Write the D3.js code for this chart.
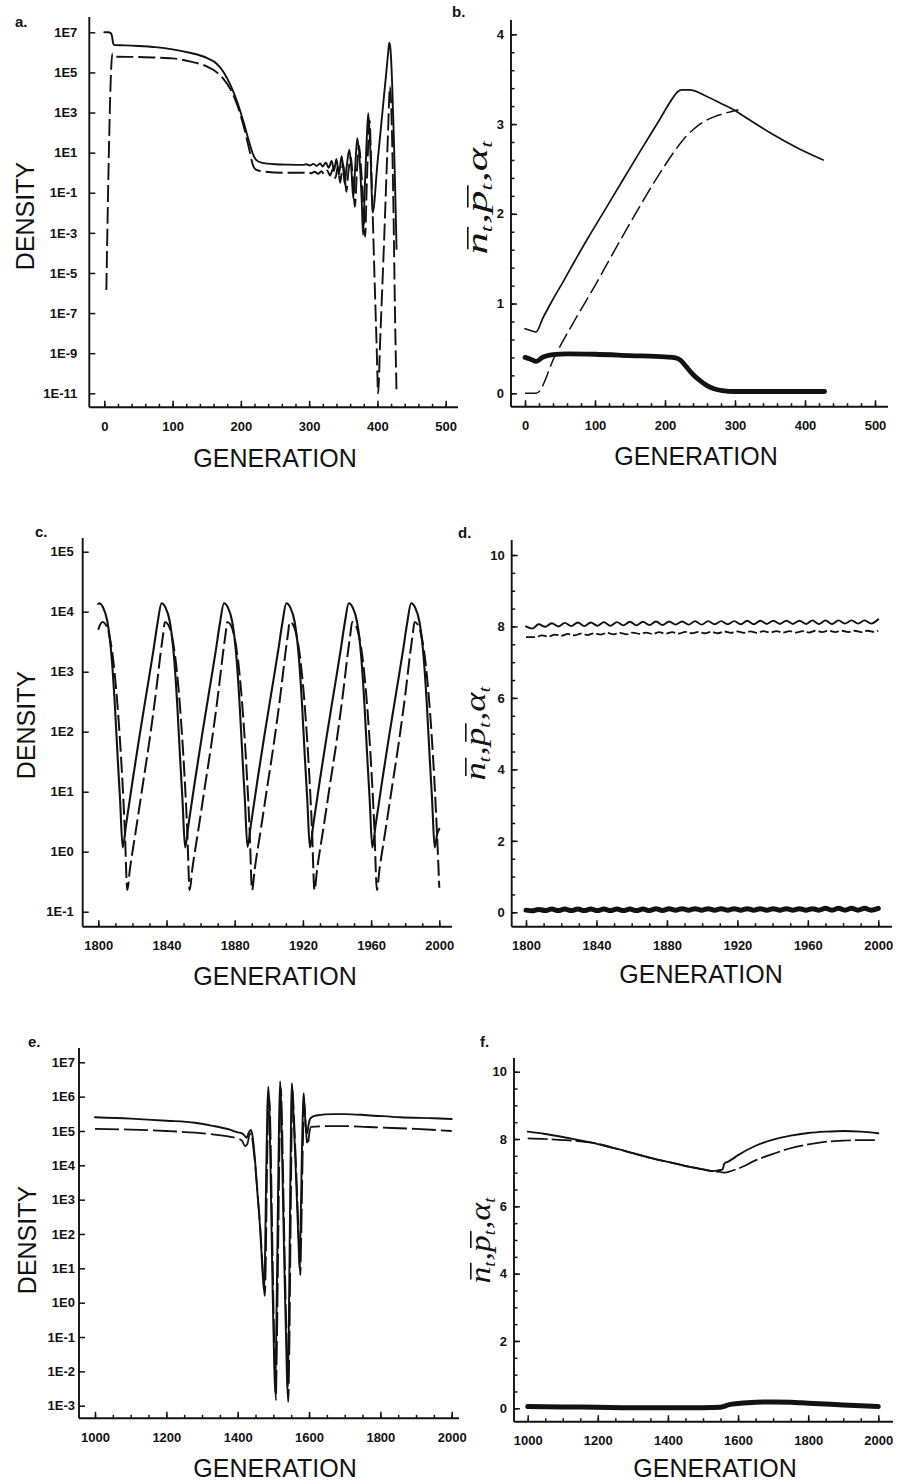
<!DOCTYPE html>
<html>
<head>
<meta charset="utf-8">
<script src="https://cdn.jsdelivr.net/npm/d3@7"></script>
<style>
  body { margin: 0; background: #fff; }
  svg { display: block; }
</style>
</head>
<body>
<svg id="fig" width="899" height="1484"></svg>
<script>
// ===================== data =====================
// Panel a: host (solid) and parasitoid (dashed) densities, log10 units
const aHostGen = [0,6,9,11,13,15,30,50,75,100,125,150,165,175,185,195,205,212,218,222,230,250,270,290,
  296,301,306,311,316,320,324.5,328.5,333,336.5,340,343.5,347.5,350,352,355,358.8,362,364.6,367.5,370.5,
  374,377,379,381.5,384.5,386.6,390,393,400,408,413,415.5,417.3,419,421.5,424,426,428];
const aHostLog10 = [7.00,7.00,6.97,6.85,6.45,6.36,6.35,6.32,6.26,6.15,5.98,5.72,5.42,5.00,4.35,3.50,2.40,1.55,0.90,0.65,0.50,0.42,0.40,0.39,
  0.42,0.36,0.44,0.34,0.46,0.31,0.50,0.25,0.58,0.12,0.68,-0.10,0.82,0.20,-0.55,0.30,1.15,0.10,-1.28,0.30,1.72,
  0.60,-1.40,-3.10,-0.80,1.80,2.96,0.80,-2.00,0.45,3.25,5.00,5.90,6.48,6.20,4.50,1.80,-0.80,-3.80];
const aParaGen = [3,12,13.5,20,50,75,100,125,150,165,175,185,195,205,212,218,222,235,260,290,
  298,303,308,313,318,322,326.5,330.5,335,338.5,342,345.5,349.5,352,354.5,357.5,361,364,367,370,373,
  376.5,379.5,382,384.5,386.5,388.5,391,396,399,401,404,410,415,418.5,420,423,426,428];
const aParaLog10 = [-5.85,5.95,5.85,5.78,5.77,5.74,5.70,5.55,5.30,5.00,4.65,4.15,3.35,2.20,1.20,0.35,0.15,0.05,0.00,0.00,
  0.03,-0.03,0.05,-0.05,0.07,-0.08,0.11,-0.14,0.19,-0.27,0.29,-0.50,0.45,-0.10,-0.95,0.05,0.80,-0.30,-1.70,0.10,1.35,
  0.00,-1.60,-3.20,-0.50,1.40,2.60,0.30,-5.50,-8.80,-11.00,-8.40,-3.20,1.50,4.30,3.50,-0.80,-7.50,-11.00];
const aXTicks = [0,100,200,300,400,500];
const aXLabels = ["0","100","200","300","400","500"];
const aYTicks = [1e7,1e5,1e3,1e1,1e-1,1e-3,1e-5,1e-7,1e-9,1e-11];
const aYLabels = ["1E7","1E5","1E3","1E1","1E-1","1E-3","1E-5","1E-7","1E-9","1E-11"];

// Panel b: mean n (solid), mean p (dashed), alpha (thick)
const bNGen = [0,8,16,25,38,55,70,90,117,140,164,190,212,218,224,235,259,280,298,320,355,390,426];
const bN = [0.72,0.70,0.685,0.83,1.02,1.25,1.46,1.73,2.08,2.38,2.69,3.02,3.30,3.36,3.38,3.38,3.31,3.23,3.16,3.05,2.88,2.73,2.60];
const bPGen = [0,16,43,70,100,130,160,190,212,230,250,270,290,305];
const bP = [0,0,0.42,0.80,1.20,1.62,2.03,2.42,2.68,2.86,3.00,3.08,3.13,3.16];
const bAGen = [0,8,16,25,40,60,100,150,200,215,222,230,240,250,260,270,282,300,350,400,428];
const bA = [0.40,0.38,0.355,0.40,0.43,0.44,0.435,0.42,0.405,0.395,0.37,0.30,0.21,0.14,0.085,0.05,0.03,0.02,0.02,0.02,0.02];
const bXTicks = [0,100,200,300,400,500];
const bXLabels = ["0","100","200","300","400","500"];
const bYTicks = [0,1,2,3,4];
const bYLabels = ["0","1","2","3","4"];

// Panel c: host (solid) and parasitoid (dashed) densities, log10 units
const cHostGen = [1800,1800.5,1802.8,1805.3,1807.8,1809.8,1811.3,1812.8,1814.3,1816.3,1820.3,1824.3,1828.3,1832.3,1834.8,1837.1,
  1839.4,1841.9,1844.4,1846.4,1847.9,1849.4,1850.9,1852.9,1856.9,1860.9,1864.9,1868.9,1871.4,1873.7,
  1876.0,1878.5,1881.0,1883.0,1884.5,1886.0,1887.5,1889.5,1893.5,1897.5,1901.5,1905.5,1908.0,1910.3,
  1912.6,1915.1,1917.6,1919.6,1921.1,1922.6,1924.1,1926.1,1930.1,1934.1,1938.1,1942.1,1944.6,1946.9,
  1949.2,1951.7,1954.2,1956.2,1957.7,1959.2,1960.7,1962.7,1966.7,1970.7,1974.7,1978.7,1981.2,1983.5,
  1985.8,1988.3,1990.8,1992.8,1994.3,1995.8,1997.3,1998.8,2000];
const cHostLog10 = [4.13,4.14,4.07,3.84,3.25,2.40,1.60,0.85,0.07,0.45,1.22,1.95,2.65,3.35,3.82,4.14,
  4.07,3.84,3.25,2.40,1.60,0.85,0.07,0.45,1.22,1.95,2.65,3.35,3.82,4.14,
  4.07,3.84,3.25,2.40,1.60,0.85,0.08,0.45,1.22,1.95,2.65,3.35,3.82,4.14,
  4.07,3.84,3.25,2.40,1.60,0.85,0.07,0.45,1.22,1.95,2.65,3.35,3.82,4.14,
  4.07,3.84,3.25,2.40,1.60,0.85,0.07,0.45,1.22,1.95,2.65,3.35,3.82,4.14,
  4.07,3.84,3.25,2.40,1.60,0.85,0.07,0.30,0.38];
const cParaGen = [1800,1801,1802.5,1804.5,1806.5,1808.5,1810.5,1812.5,1814,1815.5,1817,1818.5,1822,1826,1830,1834,1836.5,1838,1839.1,
  1841.1,1843.1,1845.1,1847.1,1849.1,1850.6,1852.1,1853.6,1855.1,1858.6,1862.6,1866.6,1870.6,1873.1,1874.6,1875.7,
  1877.7,1879.7,1881.7,1883.7,1885.7,1887.2,1888.7,1890.2,1891.7,1895.2,1899.2,1903.2,1907.2,1909.7,1911.2,1912.3,
  1914.3,1916.3,1918.3,1920.3,1922.3,1923.8,1925.3,1926.8,1928.3,1931.8,1935.8,1939.8,1943.8,1946.3,1947.8,1948.9,
  1950.9,1952.9,1954.9,1956.9,1958.9,1960.4,1961.9,1963.4,1964.9,1968.4,1972.4,1976.4,1980.4,1982.9,1984.4,1985.5,
  1987.5,1989.5,1991.5,1993.5,1995.5,1997,1998.5,2000];
const cParaLog10 = [3.70,3.78,3.83,3.78,3.60,3.25,2.70,1.95,1.25,0.40,-0.64,-0.30,0.35,1.10,1.85,2.70,3.30,3.62,3.83,
  3.78,3.60,3.25,2.70,1.95,1.25,0.40,-0.64,-0.30,0.35,1.10,1.85,2.70,3.30,3.62,3.83,
  3.78,3.60,3.25,2.70,1.95,1.25,0.40,-0.64,-0.30,0.35,1.10,1.85,2.70,3.30,3.62,3.83,
  3.78,3.60,3.25,2.70,1.95,1.25,0.40,-0.64,-0.30,0.35,1.10,1.85,2.70,3.30,3.62,3.83,
  3.78,3.60,3.25,2.70,1.95,1.25,0.40,-0.64,-0.30,0.35,1.10,1.85,2.70,3.30,3.62,3.83,
  3.78,3.60,3.25,2.70,1.95,1.25,0.40,-0.60];
const cXTicks = [1800,1840,1880,1920,1960,2000];
const cXLabels = ["1800","1840","1880","1920","1960","2000"];
const cYTicks = [1e5,1e4,1e3,1e2,1e1,1e0,1e-1];
const cYLabels = ["1E5","1E4","1E3","1E2","1E1","1E0","1E-1"];

// Panel d: mean n (solid), mean p (dashed), alpha (thick)
const dGen = [1800,1803.5,1807.2,1810.9,1814.6,1818.3,1822.0,1825.7,1829.4,1833.1,1836.8,1840.5,1844.2,1847.9,1851.6,
  1855.3,1859.0,1862.7,1866.4,1870.1,1873.8,1877.5,1881.2,1884.9,1888.6,1892.3,1896.0,1899.7,1903.4,1907.1,
  1910.8,1914.5,1918.2,1921.9,1925.6,1929.3,1933.0,1936.7,1940.4,1944.1,1947.8,1951.5,1955.2,1958.9,1962.6,
  1966.3,1970.0,1973.7,1977.4,1981.1,1984.8,1988.5,1992.2,1995.9,2000];
const dN = [8.00,7.94,8.06,7.99,8.09,8.00,8.10,8.01,8.11,8.01,8.11,8.02,8.12,8.02,8.12,
  8.03,8.13,8.03,8.13,8.04,8.14,8.04,8.14,8.05,8.14,8.05,8.15,8.05,8.15,8.06,
  8.15,8.06,8.15,8.06,8.16,8.06,8.16,8.07,8.16,8.07,8.16,8.07,8.16,8.07,8.17,
  8.07,8.17,8.07,8.17,8.08,8.17,8.08,8.17,8.08,8.20];
const dA = [0.06,0.04,0.08,0.05,0.09,0.05,0.09,0.05,0.09,0.05,0.09,0.05,0.09,0.05,0.09,
  0.05,0.09,0.05,0.09,0.05,0.10,0.05,0.10,0.06,0.10,0.06,0.10,0.06,0.10,0.06,
  0.10,0.06,0.10,0.06,0.10,0.06,0.10,0.06,0.10,0.06,0.10,0.06,0.10,0.06,0.10,
  0.06,0.11,0.06,0.11,0.06,0.11,0.06,0.11,0.06,0.11];
const dPGen = [1800,1805.3,1809.0,1812.7,1816.4,1820.1,1823.8,1827.5,1831.2,1834.9,1838.6,1842.3,1846.0,1849.7,
  1853.4,1857.1,1860.8,1864.5,1868.2,1871.9,1875.6,1879.3,1883.0,1886.7,1890.4,1894.1,1897.8,1901.5,
  1905.2,1908.9,1912.6,1916.3,1920.0,1923.7,1927.4,1931.1,1934.8,1938.5,1942.2,1945.9,1949.6,1953.3,
  1957.0,1960.7,1964.4,1968.1,1971.8,1975.5,1979.2,1982.9,1986.6,1990.3,1994.0,1997.7,2000];
const dP = [7.70,7.70,7.75,7.72,7.77,7.74,7.79,7.75,7.80,7.76,7.81,7.77,7.82,7.78,
  7.82,7.78,7.83,7.79,7.83,7.79,7.84,7.80,7.84,7.80,7.85,7.81,7.85,7.81,
  7.85,7.81,7.86,7.82,7.86,7.82,7.86,7.82,7.87,7.83,7.87,7.83,7.87,7.83,
  7.87,7.83,7.88,7.84,7.88,7.84,7.88,7.84,7.88,7.84,7.88,7.85,7.88];
const dXTicks = [1800,1840,1880,1920,1960,2000];
const dXLabels = ["1800","1840","1880","1920","1960","2000"];
const dYTicks = [0,2,4,6,8,10];
const dYLabels = ["0","2","4","6","8","10"];

// Panel e: host (solid) and parasitoid (dashed) densities, log10 units
const eHostGen = [1000,1100,1200,1280,1330,1380,1400,1412,1418,1425,1431,1436.7,1441,1448.6,1456,1462.6,1468,1472,1474,
  1476.5,1479.5,1483,1486,1489,1493.5,1498,1502,1505,1508,1512,1516,1519,1522,1527,1532,1536,1539.6,
  1543,1547,1550,1552,1555,1560,1566,1571,1573.4,1576,1580,1583,1585,1588,1591,1594.5,1599,1604,
  1620,1669,1700,1763,1855,1950,2000];
const eHostLog10 = [5.40,5.36,5.30,5.24,5.15,5.03,4.96,4.93,4.88,4.80,4.95,5.03,4.90,4.15,3.10,2.21,1.20,0.55,0.37,
  1.20,3.50,5.60,6.29,5.60,3.00,0.30,-1.60,-2.60,-1.00,2.20,5.30,6.44,5.60,3.00,0.50,-1.20,-2.65,
  -1.00,3.00,5.70,6.39,5.80,4.60,3.00,1.60,1.00,2.00,4.40,5.70,6.10,5.60,5.10,4.93,5.20,5.37,
  5.45,5.49,5.49,5.46,5.40,5.37,5.35];
const eParaGen = [1000,1100,1200,1280,1330,1380,1400,1412,1420.5,1427,1433,1438,1443,1450,1458,1464.5,1470,1474,1476,
  1478.5,1481.5,1485,1488,1491,1495.5,1500,1504,1507,1510,1514,1518,1521,1524,1529,1534,1538,1541.6,
  1545,1549,1552,1554,1557,1562,1568,1573,1575.4,1578,1582,1585,1587,1590,1593,1596.5,1601,1606,
  1650,1700,1800,1900,2000];
const eParaLog10 = [5.06,5.04,5.00,4.95,4.90,4.83,4.78,4.72,4.56,4.62,4.88,4.93,4.60,3.90,2.90,2.00,1.00,0.40,0.20,
  1.00,3.30,5.40,6.00,5.40,2.80,0.10,-1.80,-2.83,-1.20,2.00,5.10,6.25,5.40,2.80,0.30,-1.40,-2.89,
  -1.20,2.80,5.50,6.20,5.60,4.40,2.80,1.40,0.80,1.80,4.20,5.50,5.80,5.30,4.80,4.60,4.95,5.12,
  5.14,5.14,5.10,5.06,5.00];
const eXTicks = [1000,1200,1400,1600,1800,2000];
const eXLabels = ["1000","1200","1400","1600","1800","2000"];
const eYTicks = [1e7,1e6,1e5,1e4,1e3,1e2,1e1,1e0,1e-1,1e-2,1e-3];
const eYLabels = ["1E7","1E6","1E5","1E4","1E3","1E2","1E1","1E0","1E-1","1E-2","1E-3"];

// Panel f: mean n (solid), mean p (dashed), alpha (thick)
const fNGen = [1000,1050,1100,1150,1200,1230,1250,1300,1350,1400,1450,1500,1525,1540,1550,1556,1560,1565,1570,1580,
  1600,1650,1700,1750,1800,1850,1900,1950,2000];
const fN = [8.22,8.15,8.06,7.96,7.85,7.77,7.72,7.58,7.44,7.32,7.20,7.10,7.05,7.06,7.08,7.10,7.25,7.30,7.32,7.38,
  7.52,7.80,7.98,8.10,8.18,8.22,8.24,8.22,8.17];
const fPGen = [1000,1050,1100,1150,1200,1230,1250,1300,1350,1400,1450,1500,1530,1550,1563,1580,1600,1653,1700,1747,
  1800,1842,1900,1950,2000];
const fP = [8.02,8.00,7.97,7.93,7.86,7.78,7.72,7.58,7.44,7.32,7.20,7.10,7.04,7.02,7.00,7.05,7.12,7.38,7.56,7.72,
  7.84,7.91,7.95,7.97,7.97];
const fAGen = [1000,1100,1200,1300,1400,1500,1550,1560,1575,1600,1650,1700,1750,1800,1900,2000];
const fA = [0.05,0.04,0.03,0.02,0.02,0.02,0.03,0.06,0.11,0.14,0.18,0.19,0.18,0.15,0.10,0.05];
const fXTicks = [1000,1200,1400,1600,1800,2000];
const fXLabels = ["1000","1200","1400","1600","1800","2000"];
const fYTicks = [0,2,4,6,8,10];
const fYLabels = ["0","2","4","6","8","10"];

// ===================== drawing =====================
const svg = d3.select("#fig");
const INK = "#121212";
const SANS = '"Liberation Sans", Arial, Helvetica, sans-serif';
const SERIF = '"Liberation Serif", "Times New Roman", serif';

svg.append("rect").attr("width", 899).attr("height", 1484).attr("fill", "#fff");

const pairs = (xs, ys) => xs.slice(0, Math.min(xs.length, ys.length)).map((g, i) => [g, ys[i]]);
const pairsExp = (xs, ys) => pairs(xs, ys).map(([g, v]) => [g, Math.pow(10, v)]);

function drawPanel(p) {
  const g = svg.append("g");
  const x = d3.scaleLinear().domain(p.xDomain).range(p.xRange);
  const y = (p.log ? d3.scaleLog() : d3.scaleLinear()).domain(p.yDomain).range(p.yRange);

  const styleAxis = s => {
    s.select(".domain").remove();
    s.selectAll(".tick line").attr("stroke", INK).attr("stroke-width", 1.5);
    s.selectAll("text").attr("font-family", SANS).attr("font-size", 13)
      .attr("font-weight", "bold").attr("fill", INK);
  };

  // x axis: minor then major ticks, pointing up into the plot
  g.append("g").attr("transform", `translate(0,${p.axisY})`)
    .call(d3.axisBottom(x).tickValues(p.xMinor).tickSizeInner(-3.5).tickSizeOuter(0).tickFormat(() => ""))
    .call(styleAxis);
  g.append("g").attr("transform", `translate(0,${p.axisY})`)
    .call(d3.axisBottom(x).tickValues(p.xTicks).tickSizeInner(-6.5).tickSizeOuter(0)
      .tickPadding(14).tickFormat((d, i) => p.xLabels[i]))
    .call(styleAxis);

  // y axis
  if (p.yMinor) {
    g.append("g").attr("transform", `translate(${p.axisX},0)`)
      .call(d3.axisLeft(y).tickValues(p.yMinor).tickSizeInner(-3.5).tickSizeOuter(0).tickFormat(() => ""))
      .call(styleAxis);
  }
  g.append("g").attr("transform", `translate(${p.axisX},0)`)
    .call(d3.axisLeft(y).tickValues(p.yTicks).tickSizeInner(-6).tickSizeOuter(0)
      .tickPadding(p.yPad).tickFormat((d, i) => p.yLabels[i]))
    .call(styleAxis);

  // axis spines
  g.append("line").attr("x1", p.axisX).attr("x2", p.axisX).attr("y1", p.axisTop).attr("y2", p.axisY)
    .attr("stroke", INK).attr("stroke-width", 1.9);
  g.append("line").attr("x1", p.axisX).attr("x2", p.axisRight).attr("y1", p.axisY).attr("y2", p.axisY)
    .attr("stroke", INK).attr("stroke-width", 1.9);

  const line = d3.line().x(d => x(d[0])).y(d => y(d[1])).curve(d3.curveMonotoneX);
  p.series.forEach(s => {
    g.append("path").datum(s.pts).attr("d", line)
      .attr("fill", "none").attr("stroke", INK)
      .attr("stroke-width", s.width)
      .attr("stroke-linejoin", "round")
      .attr("stroke-linecap", s.dash ? "butt" : "round")
      .attr("stroke-dasharray", s.dash || null);
  });

  // panel letter
  svg.append("text").attr("x", p.letterPos[0]).attr("y", p.letterPos[1])
    .attr("font-family", SANS).attr("font-weight", "bold").attr("font-size", 15)
    .attr("fill", INK).text(p.letter);

  // x title
  svg.append("text").attr("x", p.xTitlePos[0]).attr("y", p.xTitlePos[1])
    .attr("text-anchor", "middle").attr("font-family", SANS).attr("font-size", 25)
    .attr("fill", INK).text("GENERATION");

  if (p.yTitle === "density") {
    svg.append("text")
      .attr("transform", `translate(${p.yTitlePos[0]},${p.yTitlePos[1]}) rotate(-90)`)
      .attr("text-anchor", "middle").attr("font-family", SANS).attr("font-size", 25)
      .attr("fill", INK).text("DENSITY");
  } else {
    paramLabel(p.yTitlePos[0], p.yTitlePos[1], 30, p.yTitleLen);
  }
}

// rotated label: n-bar_t, p-bar_t, alpha_t
function paramLabel(baseX, cy, fs, targetLen) {
  const outer = svg.append("g").attr("transform", `translate(${baseX},${cy}) rotate(-90)`);
  const inner = outer.append("g");
  const parts = [
    { s: "n", bar: true }, { s: "t", sub: true }, { s: ", " },
    { s: "p", bar: true }, { s: "t", sub: true }, { s: ", " },
    { s: "α" }, { s: "t", sub: true }
  ];
  let pos = 0;
  const bars = [];
  parts.forEach(pt => {
    const t = inner.append("text").attr("x", pos).attr("y", pt.sub ? fs * 0.18 : 0)
      .attr("font-family", SERIF).attr("font-style", "italic")
      .attr("font-size", pt.sub ? fs * 0.55 : fs).attr("fill", INK).text(pt.s);
    const w = t.node().getComputedTextLength();
    if (pt.bar) bars.push([pos, w]);
    pos += w + (pt.sub ? 1 : 0);
  });
  bars.forEach(([bx, bw]) => {
    inner.append("line").attr("x1", bx + 0.12 * fs).attr("x2", bx + bw + 0.12 * fs)
      .attr("y1", -0.64 * fs).attr("y2", -0.64 * fs)
      .attr("stroke", INK).attr("stroke-width", 1.6);
  });
  const k = targetLen / pos;
  inner.attr("transform", `scale(${k},1) translate(${-pos / 2},0)`);
}

const SOLID = 1.9, THICK = 4.8;

drawPanel({
  letter: "a.", letterPos: [15, 27],
  xDomain: [0, 500], xRange: [104.3, 445.7],
  log: true, yDomain: [1e-11, 1e7], yRange: [393.3, 32.3],
  axisX: 89.3, axisY: 407.3, axisTop: 17, axisRight: 458,
  xTicks: aXTicks, xLabels: aXLabels, xMinor: d3.range(0, 501, 20),
  yTicks: aYTicks, yLabels: aYLabels, yPad: 12,
  xTitlePos: [275, 467], yTitle: "density", yTitlePos: [34, 216],
  series: [
    { pts: pairsExp(aHostGen, aHostLog10), width: SOLID },
    { pts: pairsExp(aParaGen, aParaLog10), width: SOLID, dash: "17,5" }
  ]
});

drawPanel({
  letter: "b.", letterPos: [452, 17],
  xDomain: [0, 500], xRange: [525, 875],
  log: false, yDomain: [0, 4], yRange: [393.3, 34.3],
  axisX: 511, axisY: 406.7, axisTop: 20, axisRight: 888,
  xTicks: bXTicks, xLabels: bXLabels, xMinor: d3.range(0, 501, 20),
  yTicks: bYTicks, yLabels: bYLabels, yMinor: d3.range(0, 4.001, 0.2), yPad: 7,
  xTitlePos: [696, 465], yTitle: "param", yTitlePos: [487, 197], yTitleLen: 115,
  series: [
    { pts: pairs(bNGen, bN), width: 1.7 },
    { pts: pairs(bPGen, bP), width: 1.5, dash: "16,5" },
    { pts: pairs(bAGen, bA), width: THICK }
  ]
});

drawPanel({
  letter: "c.", letterPos: [35, 537],
  xDomain: [1800, 2000], xRange: [98.3, 439.3],
  log: true, yDomain: [1e-1, 1e5], yRange: [911.7, 551.7],
  axisX: 82.7, axisY: 926.7, axisTop: 538, axisRight: 452,
  xTicks: cXTicks, xLabels: cXLabels, xMinor: d3.range(1800, 2001, 10),
  yTicks: cYTicks, yLabels: cYLabels, yPad: 9,
  xTitlePos: [275, 985], yTitle: "density", yTitlePos: [35, 725],
  series: [
    { pts: pairsExp(cHostGen, cHostLog10), width: 2.1 },
    { pts: pairsExp(cParaGen, cParaLog10), width: 2.0, dash: "16,5" }
  ]
});

drawPanel({
  letter: "d.", letterPos: [458, 538],
  xDomain: [1800, 2000], xRange: [526, 878.3],
  log: false, yDomain: [0, 10], yRange: [912.3, 555],
  axisX: 511.7, axisY: 926.7, axisTop: 540, axisRight: 892,
  xTicks: dXTicks, xLabels: dXLabels, xMinor: d3.range(1800, 2001, 10),
  yTicks: dYTicks, yLabels: dYLabels, yMinor: d3.range(0, 10.001, 0.5), yPad: 7,
  xTitlePos: [701, 983], yTitle: "param", yTitlePos: [485, 733], yTitleLen: 95,
  series: [
    { pts: pairs(dGen, dN), width: 1.9 },
    { pts: pairs(dPGen, dP), width: 1.8, dash: "9,3" },
    { pts: pairs(dGen, dA), width: 5 }
  ]
});

drawPanel({
  letter: "e.", letterPos: [28, 1047],
  xDomain: [1000, 2000], xRange: [95, 451.7],
  log: true, yDomain: [1e-3, 1e7], yRange: [1405.7, 1062.3],
  axisX: 79, axisY: 1418.3, axisTop: 1048, axisRight: 459,
  xTicks: eXTicks, xLabels: eXLabels, xMinor: d3.range(1000, 2001, 50),
  yTicks: eYTicks, yLabels: eYLabels, yPad: 4,
  xTitlePos: [275, 1477], yTitle: "density", yTitlePos: [36, 1240],
  series: [
    { pts: pairsExp(eHostGen, eHostLog10), width: SOLID },
    { pts: pairsExp(eParaGen, eParaLog10), width: 1.8, dash: "24,5" }
  ]
});

drawPanel({
  letter: "f.", letterPos: [480, 1047],
  xDomain: [1000, 2000], xRange: [527.7, 878.3],
  log: false, yDomain: [0, 10], yRange: [1408.3, 1071.7],
  axisX: 514, axisY: 1421.7, axisTop: 1058, axisRight: 893,
  xTicks: fXTicks, xLabels: fXLabels, xMinor: d3.range(1000, 2001, 50),
  yTicks: fYTicks, yLabels: fYLabels, yMinor: d3.range(0, 10.001, 0.5), yPad: 7,
  xTitlePos: [715, 1477], yTitle: "param", yTitlePos: [490, 1240], yTitleLen: 87,
  series: [
    { pts: pairs(fNGen, fN), width: 1.9 },
    { pts: pairs(fPGen, fP), width: 1.7, dash: "20,4" },
    { pts: pairs(fAGen, fA), width: 5 }
  ]
});
</script>
</body>
</html>
